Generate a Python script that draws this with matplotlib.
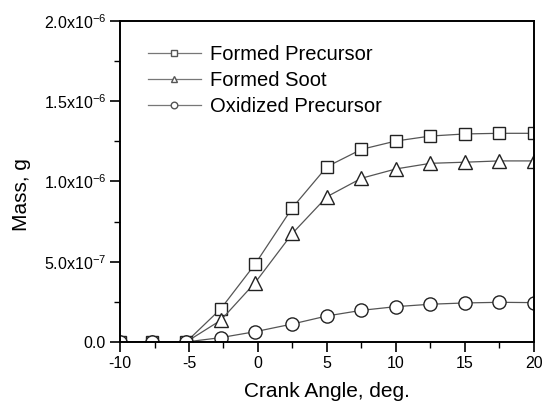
import matplotlib
matplotlib.use('Agg')
import matplotlib.pyplot as plt
from matplotlib.ticker import FixedLocator, MultipleLocator

plt.rcParams['font.family'] = ['Liberation Sans', 'DejaVu Sans']
plt.rcParams['mathtext.fontset'] = 'custom'
plt.rcParams['mathtext.rm'] = 'Liberation Sans'
plt.rcParams['axes.unicode_minus'] = False

# crank angle (deg) and masses (g)
crank_angle = [-10, -7.7, -5.2, -2.7, -0.2, 2.5, 5, 7.5, 10, 12.5, 15, 17.5, 20]
formed_precursor = [0, 0, 0, 0.206e-6, 0.486e-6, 0.837e-6, 1.092e-6, 1.20e-6,
                    1.252e-6, 1.283e-6, 1.296e-6, 1.30e-6, 1.30e-6]
formed_soot = [0, 0, 0, 0.135e-6, 0.37e-6, 0.677e-6, 0.905e-6, 1.02e-6,
               1.078e-6, 1.113e-6, 1.12e-6, 1.128e-6, 1.128e-6]
oxidized_precursor = [0, 0, 0, 0.027e-6, 0.064e-6, 0.112e-6, 0.162e-6, 0.197e-6,
                      0.22e-6, 0.235e-6, 0.243e-6, 0.247e-6, 0.245e-6]

y_ticks = [0, 0.5e-6, 1.0e-6, 1.5e-6, 2.0e-6]
y_tick_labels = ['0.0',
                 r'5.0x10$^{\mathregular{-7}}$',
                 r'1.0x10$^{\mathregular{-6}}$',
                 r'1.5x10$^{\mathregular{-6}}$',
                 r'2.0x10$^{\mathregular{-6}}$']


def main():
    fig = plt.figure(figsize=(5.51, 4.11), dpi=100)
    ax = fig.add_axes([0.2178, 0.168, 0.7512, 0.781])

    style = dict(color='#555555', lw=0.9, mec='#222222', mfc='white', mew=1.0)
    ax.plot(crank_angle, formed_precursor, marker='s', ms=9,
            label='Formed Precursor', **style)
    ax.plot(crank_angle, formed_soot, marker='^', ms=10,
            label='Formed Soot', **style)
    ax.plot(crank_angle, oxidized_precursor, marker='o', ms=9.5,
            label='Oxidized Precursor', **style)

    ax.set_xlim(-10, 20)
    ax.set_ylim(0, 2.0e-6)
    ax.xaxis.set_major_locator(MultipleLocator(5))
    ax.xaxis.set_minor_locator(MultipleLocator(2.5))
    ax.yaxis.set_major_locator(FixedLocator(y_ticks))
    ax.set_yticklabels(y_tick_labels)
    ax.yaxis.set_minor_locator(MultipleLocator(0.25e-6))

    ax.tick_params(which='major', direction='out', length=7, width=1.2,
                   labelsize=11.5, pad=3)
    ax.tick_params(which='minor', direction='out', length=4.5, width=1.0)
    ax.tick_params(top=False, right=False)
    for s in ax.spines.values():
        s.set_linewidth(1.4)

    ax.set_xlabel('Crank Angle, deg.', fontsize=15, labelpad=8)
    ax.set_ylabel('Mass, g', fontsize=15, labelpad=6)
    ax.yaxis.set_label_coords(-0.215, 0.46)

    leg = ax.legend(loc='upper left', bbox_to_anchor=(0.068, 0.925),
                    frameon=False, fontsize=14.5, markerscale=0.5,
                    handlelength=2.6, handletextpad=0.45, labelspacing=0.35,
                    borderpad=0, borderaxespad=0)
    for h in leg.legend_handles:
        h.set_color('#777777')
        h.set_markeredgecolor('#555555')

    plt.savefig('out.png', dpi=100)


if __name__ == '__main__':
    main()
